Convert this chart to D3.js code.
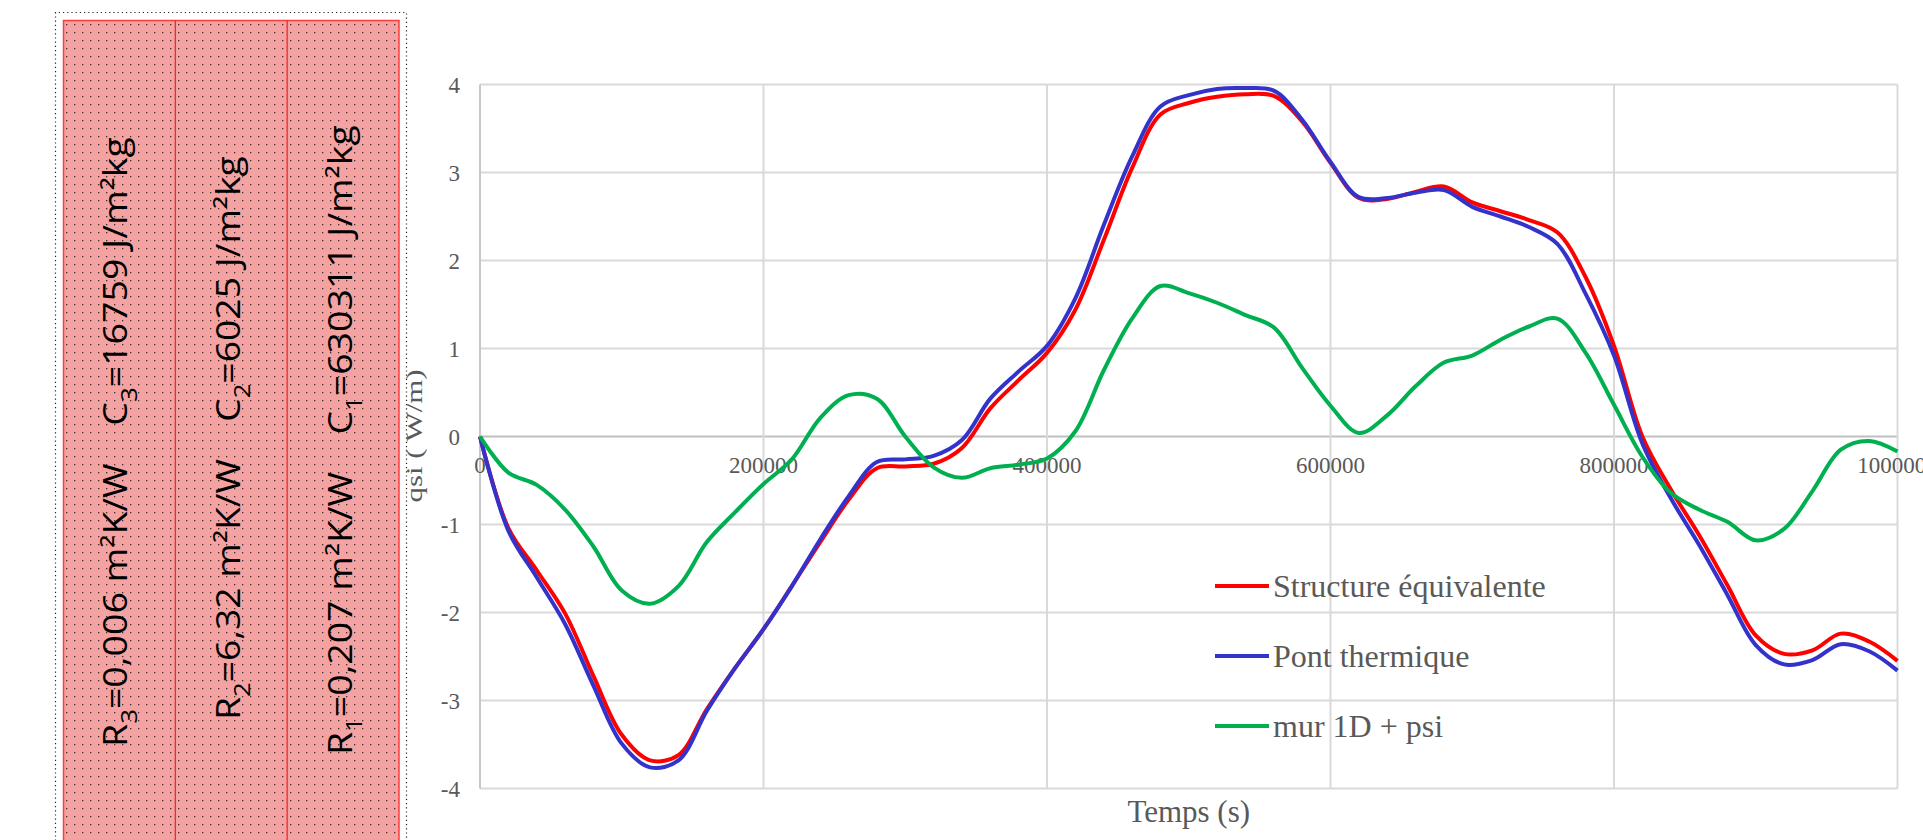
<!DOCTYPE html>
<html>
<head>
<meta charset="utf-8">
<script src="https://cdn.jsdelivr.net/npm/d3@7"></script>
<style>
  body { margin: 0; background: #fff; overflow: hidden; }
  svg { display: block; }
</style>
</head>
<body>
<div id="chart"></div>
<script>
// sample times (s)
var temps = [0, 20000, 40000, 60000, 80000, 100000, 120000, 140000, 160000, 180000,
  200000, 220000, 240000, 260000, 280000, 300000, 320000, 340000, 360000, 380000,
  400000, 420000, 440000, 460000, 480000, 500000, 520000, 540000, 560000, 580000,
  600000, 620000, 640000, 660000, 680000, 700000, 720000, 740000, 760000, 780000,
  800000, 820000, 840000, 860000, 880000, 900000, 920000, 940000, 960000, 980000, 1000000];

// qsi (W/m) per series
var structure = [0, -1.04, -1.52, -2.01, -2.72, -3.39, -3.68, -3.62, -3.10, -2.63,
  -2.19, -1.70, -1.20, -0.72, -0.36, -0.34, -0.31, -0.13, 0.32, 0.64,
  0.95, 1.44, 2.23, 3.05, 3.66, 3.79, 3.86, 3.89, 3.87, 3.58,
  3.11, 2.71, 2.70, 2.78, 2.84, 2.66, 2.56, 2.46, 2.32, 1.81,
  1.03, 0.00, -0.60, -1.12, -1.69, -2.26, -2.47, -2.43, -2.24, -2.33, -2.55];

var pont = [0, -1.07, -1.60, -2.13, -2.83, -3.49, -3.76, -3.68, -3.12, -2.63,
  -2.19, -1.70, -1.17, -0.68, -0.29, -0.26, -0.22, -0.04, 0.43, 0.74,
  1.03, 1.57, 2.40, 3.18, 3.75, 3.88, 3.95, 3.96, 3.93, 3.60,
  3.12, 2.72, 2.71, 2.77, 2.80, 2.61, 2.50, 2.38, 2.19, 1.62,
  0.92, -0.08, -0.70, -1.23, -1.80, -2.37, -2.59, -2.54, -2.36, -2.44, -2.66];

var mur = [0, -0.41, -0.55, -0.83, -1.25, -1.75, -1.90, -1.70, -1.20, -0.86,
  -0.54, -0.26, 0.21, 0.47, 0.43, 0.00, -0.35, -0.47, -0.36, -0.32,
  -0.25, 0.06, 0.75, 1.34, 1.71, 1.63, 1.52, 1.38, 1.24, 0.78,
  0.35, 0.04, 0.24, 0.57, 0.84, 0.92, 1.10, 1.25, 1.34, 0.95,
  0.36, -0.23, -0.64, -0.83, -0.97, -1.18, -1.05, -0.62, -0.15, -0.05, -0.17];

var seriesNames = ["Structure équivalente", "Pont thermique", "mur 1D + psi"];
var seriesColors = ["#ff0000", "#3333cc", "#00b050"];

var xTicks = [0, 200000, 400000, 600000, 800000, 1000000];
var yTicks = [-4, -3, -2, -1, 0, 1, 2, 3, 4];

// wall layers, drawn left to right
var layerIdx = ["3", "2", "1"];
var layerR = ["0,006", "6,32", "0,207"];
var layerC = ["16759", "6025", "630311"];

var W = 1923, H = 840;
var svg = d3.select("#chart").append("svg")
  .attr("width", W)
  .attr("height", H);

// ---- left panel (wall layers) ----
var defs = svg.append("defs");
var pat = defs.append("pattern")
  .attr("id", "dots")
  .attr("patternUnits", "userSpaceOnUse")
  .attr("x", 63).attr("y", 21)
  .attr("width", 8).attr("height", 8);
pat.append("rect").attr("width", 8).attr("height", 8).attr("fill", "#f5a2a2");
pat.append("rect").attr("x", 3).attr("y", 3).attr("width", 1.3).attr("height", 1.3).attr("fill", "#3a3030");

var panelL = 63.5, panelR = 399, panelT = 20.5;
var colW = (panelR - panelL) / 3;

// dotted frame
svg.append("path")
  .attr("d", "M55.5,845 V12.5 H406.5 V845")
  .attr("fill", "none")
  .attr("stroke", "#222")
  .attr("stroke-width", 1.2)
  .attr("stroke-dasharray", "1.2,3");

svg.append("rect")
  .attr("x", panelL).attr("y", panelT)
  .attr("width", panelR - panelL).attr("height", 860)
  .attr("fill", "url(#dots)")
  .attr("stroke", "#ff3a3a")
  .attr("stroke-width", 1.5);

[1, 2].forEach(function(i) {
  svg.append("line")
    .attr("x1", panelL + i * colW).attr("x2", panelL + i * colW)
    .attr("y1", panelT).attr("y2", H + 10)
    .attr("stroke", "#ee2a2a")
    .attr("stroke-width", 1.3);
});

var baseX = [127, 240, 352];
var textLen = [610, 564, 630];
var textMid = [442, 438, 440];

layerIdx.forEach(function(idx, i) {
  var g = svg.append("g");
  var t = g.append("text")
    .attr("font-family", "'Open Sans', 'Noto Sans', sans-serif")
    .attr("font-size", 32)
    .attr("font-weight", 500)
    .attr("fill", "#000");
  t.append("tspan").text("R");
  t.append("tspan").attr("font-size", 22).attr("dy", 10).text(idx);
  t.append("tspan").attr("dy", -10).text("=" + layerR[i] + " m²K/W");
  t.append("tspan").attr("dx", 32).text("C");
  t.append("tspan").attr("font-size", 22).attr("dy", 10).text(idx);
  t.append("tspan").attr("dy", -10).text("=" + layerC[i] + " J/m²kg");

  var bb = t.node().getBBox();
  var s = textLen[i] / bb.width;
  g.attr("transform", "translate(" + baseX[i] + "," + textMid[i] + ") rotate(-90) scale(" + s + ",1) translate(" + (-(bb.x + bb.width / 2)) + ",0)");
});

// ---- chart ----
var x = d3.scaleLinear().domain([0, 1000000]).range([480, 1897.5]);
var y = d3.scaleLinear().domain([-4, 4]).range([788.5, 84.5]);

var grid = svg.append("g");
grid.selectAll(".hg").data(yTicks).enter().append("line")
  .attr("x1", x(0)).attr("x2", x(1000000))
  .attr("y1", function(d) { return y(d); })
  .attr("y2", function(d) { return y(d); })
  .attr("stroke", function(d) { return d === 0 ? "#bfbfbf" : "#d9d9d9"; })
  .attr("stroke-width", 2);
grid.selectAll(".vg").data(xTicks).enter().append("line")
  .attr("x1", function(d) { return x(d); })
  .attr("x2", function(d) { return x(d); })
  .attr("y1", y(4)).attr("y2", y(-4))
  .attr("stroke", function(d) { return d === 0 ? "#c8c8c8" : "#d9d9d9"; })
  .attr("stroke-width", 2);

var serif = "'Liberation Serif', 'Times New Roman', serif";

svg.append("g").selectAll("text").data(yTicks).enter().append("text")
  .attr("x", 460)
  .attr("y", function(d) { return y(d) + 8; })
  .attr("text-anchor", "end")
  .attr("font-family", serif)
  .attr("font-size", 23)
  .attr("fill", "#595959")
  .text(function(d) { return d; });

svg.append("g").selectAll("text").data(xTicks).enter().append("text")
  .attr("x", function(d) { return x(d); })
  .attr("y", 473)
  .attr("text-anchor", "middle")
  .attr("font-family", serif)
  .attr("font-size", 23)
  .attr("fill", "#595959")
  .text(function(d) { return d; });

var line = d3.line()
  .x(function(d) { return x(d[0]); })
  .y(function(d) { return y(d[1]); })
  .curve(d3.curveCatmullRom.alpha(0.5));

[structure, pont, mur].forEach(function(vals, i) {
  svg.append("path")
    .datum(temps.map(function(t, j) { return [t, vals[j]]; }))
    .attr("fill", "none")
    .attr("stroke", seriesColors[i])
    .attr("stroke-width", 4)
    .attr("stroke-linejoin", "round")
    .attr("d", line);
});

// legend
var legY = [586, 656, 726];
seriesNames.forEach(function(name, i) {
  svg.append("line")
    .attr("x1", 1215).attr("x2", 1269)
    .attr("y1", legY[i]).attr("y2", legY[i])
    .attr("stroke", seriesColors[i])
    .attr("stroke-width", 4);
  svg.append("text")
    .attr("x", 1273)
    .attr("y", legY[i] + 10.5)
    .attr("font-family", serif)
    .attr("font-size", 32)
    .attr("fill", "#595959")
    .text(name);
});

// axis titles
svg.append("text")
  .attr("x", (x(0) + x(1000000)) / 2)
  .attr("y", 822)
  .attr("text-anchor", "middle")
  .attr("font-family", serif)
  .attr("font-size", 31)
  .attr("fill", "#595959")
  .text("Temps (s)");

svg.append("text")
  .attr("transform", "translate(422,436) rotate(-90)")
  .attr("text-anchor", "middle")
  .attr("font-family", serif)
  .attr("font-size", 24)
  .attr("textLength", 133)
  .attr("lengthAdjust", "spacingAndGlyphs")
  .attr("fill", "#595959")
  .text("qsi ( W/m)");
</script>
</body>
</html>
